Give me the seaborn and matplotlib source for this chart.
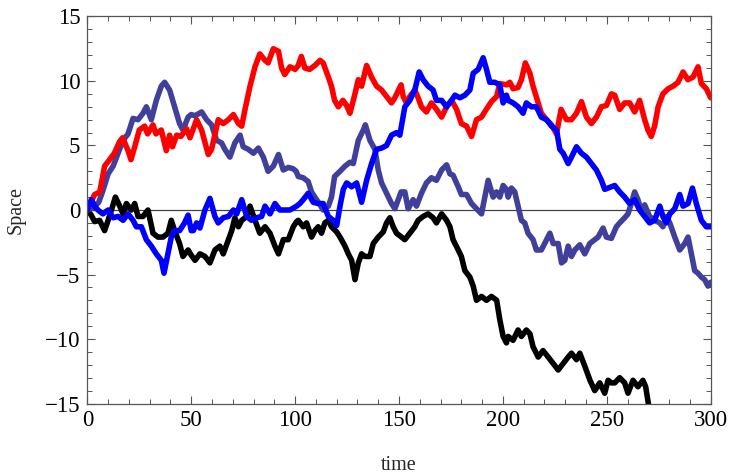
import numpy as np
import pandas as pd
import matplotlib
matplotlib.use("Agg")
import matplotlib.pyplot as plt
import seaborn as sns
from matplotlib.ticker import MultipleLocator

# ---- data (time, value) ----
red_t = [0,3.5,6,8.3,10.7,13,15.5,17,19.6,21,22.8,25,27.6,29,31.6,33,35.6,38,39.6,41,43,45,47.7,49.4,52.6,55,58.2,59.8,63,65.4,67.9,70.3,72.7,74.3,75.9,78.3,80.7,83,85.5,87,89.5,92,93.5,95,97.5,100,101.5,103,104.7,107,109.5,112,113.5,116,117.5,119,120.8,123,124.8,126.4,128.8,130.4,132,134.4,136.8,139.2,141.6,144,146.4,148,151,152,153.6,155.2,157.6,159.2,160.8,163.2,165.6,168,170.5,172.9,175.3,177.7,180,182.5,184.9,187.3,189.7,192,194.5,197,198.5,201.7,203.3,204.9,207.3,208.9,210.8,213,214.5,217,218.5,221,223.4,225.8,228,230.6,233,235.4,237.8,240.2,242.6,245,247.4,249.8,252.2,253.8,256.2,258.6,261,263.4,265.8,268.2,269.8,271.4,273,274.7,277,279.5,281.9,284.3,286.7,289,291.5,293.9,295.5,297.9,300]
red_v = [0,1.2,1.4,3.4,3.9,4.4,5.3,5.6,4.6,3.9,4.9,6.2,6.5,5.9,6.6,5.9,6.2,4.6,5.8,4.9,5.8,5.7,6.3,5.6,7.0,6.2,4.3,4.7,7.0,6.7,7.0,7.4,6.7,6.5,7.8,9.6,11.1,12.1,11.6,11.4,12.5,12.3,11.0,10.5,11.1,10.9,11.2,11.9,11.0,10.9,11.2,11.6,11.4,10.3,9.6,8.5,8.0,8.5,8.1,7.5,9.0,10.1,9.6,11.2,10.3,9.6,9.3,8.8,8.3,8.7,9.7,8.8,8.3,8.8,9.3,8.7,8.0,7.6,8.3,7.8,7.2,8.0,8.5,7.8,6.7,6.5,5.7,7.0,7.2,7.8,8.4,8.8,9.8,9.7,9.9,9.4,9.5,10.1,11.4,10.6,9.6,8.3,7.5,7.0,6.6,5.9,7.8,7.0,7.0,7.5,8.4,7.2,6.7,7.2,8.0,8.1,9.0,8.9,7.8,8.3,8.3,7.6,8.5,7.0,6.2,5.7,6.5,8.0,9.0,9.4,9.6,9.9,10.7,10.1,10.3,11.1,9.8,9.4,8.7]

purple_t = [0,3,5.5,7.5,10,12.4,14.8,17.2,19.6,22,24.4,26.8,28.4,30.8,33.2,35.6,37.2,39.6,42,44.4,46,48.5,50,51.8,55,57.4,59.8,62.2,64.6,66.2,68.6,71,73.5,75,77.5,79.9,82.3,84.7,87,89.5,92,94.3,96.7,99,100.5,101.5,103.9,106.3,107.9,109.5,112,113.5,116,117.5,119,121.6,124,126.4,128,130.4,132.8,133.8,136,138.4,140,141.6,144,146.4,148,149.6,151,152.8,154.4,156.8,158.4,160.8,163.2,165.6,168,170.5,172.9,174.5,176,178.5,180,182.5,184.9,187.3,189.7,191.3,192.9,195.3,196.9,198.5,200.1,201.7,202.5,204.1,205.7,207.3,208.9,210.5,212.1,214.5,216.1,218.5,221,222.6,224.2,226.6,228.2,229.8,231.4,233,234.6,237,239.4,241.8,244.2,245.8,248.2,249.8,252.2,254.6,256.2,258.6,260.2,261.8,263.4,265,266.6,268.2,270.6,273,275.5,277,278.7,280.3,282.7,285.1,287.5,289.1,290.7,292.3,293.9,295.5,297.1,298.7,300]
purple_v = [0,0.2,0.6,1.5,2.8,3.4,4.4,5.4,5.9,7.1,7.0,7.5,8.0,7.0,8.5,9.6,9.9,9.3,8.0,6.7,6.2,7.2,7.4,7.3,7.6,7.0,6.6,5.4,5.2,4.7,4.1,5.2,5.8,4.9,4.7,4.4,4.8,4.1,3.0,3.4,4.3,3.1,3.3,3.2,3.0,2.6,2.5,2.2,1.4,1.0,0.4,0.0,0.3,1.0,2.6,3.0,3.4,3.7,3.6,5.4,6.2,6.6,5.4,4.7,3.1,2.1,1.3,0.5,0.1,0.8,1.4,1.4,0.1,0.8,0.3,1.3,2.1,2.5,2.3,3.1,3.5,2.8,2.7,1.8,1.2,1.2,0.5,0.1,-0.3,1.0,2.3,1.0,1.4,1.0,1.9,1.6,1.0,1.7,1.4,0.3,-0.8,-1.0,-1.8,-2.3,-3.1,-3.1,-2.3,-1.8,-2.6,-2.6,-4.1,-3.9,-2.8,-3.6,-3.1,-2.7,-3.4,-2.6,-2.3,-2.1,-1.4,-2.1,-2.2,-1.3,-1.0,-0.6,-0.3,0.5,1.4,0.8,-0.1,0.4,-0.5,-0.8,-1.0,-1.3,-0.5,-1.0,-2.1,-3.1,-2.6,-2.1,-3.4,-4.7,-4.9,-5.2,-5.4,-5.9,-5.6]

blue_t = [0,1.9,3.5,5.1,7.5,10,12.4,14.8,17.2,19.6,22,23.6,26,28.4,30.8,33.2,35.6,36.9,38.8,40.4,42,44.4,46.8,48.5,50,51,52.6,54.2,56.6,59,61.4,63,65.4,67.9,70.3,71.9,74.3,76.7,79,81.5,83.9,85.5,87.9,90.3,92.7,95.1,97.5,100.7,102.3,103.9,106.3,108.7,111.1,113.5,116,118.3,120,121.6,123.2,124.8,127.2,129.6,132,134.4,136.8,139.2,141.6,144,146.4,148.8,150.4,152.8,155.2,157.6,159.7,161.6,164,166.4,168,170.5,172.9,175.3,176.9,179.3,181.7,184.1,185.7,188.1,190.5,192.1,193.7,196.1,198.5,200.1,201.7,202.5,204.9,207.3,209.7,211.3,213.7,216.1,218.5,221,223.4,225.8,227.4,229,231.4,233,235.4,237.8,240.2,242.6,245,247.4,249,252.2,253.8,256.2,258.6,261,263.4,265.8,268.2,270.6,273,275.5,277,278.7,280.3,282.7,285.1,286.7,289.1,291.2,293.1,295.5,297.9,300]
blue_v = [0,0.8,0.3,0,-0.3,0,-0.6,-0.5,-0.8,-0.3,-0.8,-1.3,-1.3,-2.3,-2.8,-3.4,-3.9,-4.9,-3.4,-2.1,-1.6,-1.6,-1.0,-0.4,-1.6,-1.6,-1.0,-1.4,0,0.9,-0.5,-1.0,-0.6,-0.5,0,-0.3,0.8,-0.5,-0.8,-0.6,-0.5,0.3,-0.3,0.5,0,0,0,0.3,0.5,0.8,1.3,0.6,0.5,0.5,-0.5,-0.8,-1.2,0.3,1.6,2.1,1.8,2.1,0.6,2.3,3.6,4.7,4.8,5.0,5.8,6.0,5.8,8.0,8.5,9.3,10.7,10.1,9.6,9.3,8.5,8.5,8.0,8.5,8.9,8.7,8.9,9.3,10.6,10.9,11.8,10.9,9.9,9.9,9.7,8.3,8.9,8.5,8.3,8.0,7.5,8.3,8.0,8.0,7.2,7.0,6.5,6.2,4.7,4.4,3.6,4.1,4.9,4.4,4.1,3.6,3.1,2.3,1.6,1.8,1.9,1.4,1.0,0.5,0.8,0,-0.5,-1.0,-0.8,0.3,-0.5,-1.0,-0.3,0.1,1.2,0.3,0.5,1.7,0.5,-0.8,-1.3,-1.3]

black_t = [0,1.9,3.5,5.9,8.3,10,11.6,13.5,15.6,17.2,18.8,21.2,22.8,24.4,26.8,29.2,31.6,34,36.4,38.8,40.4,42,44.4,46,48.5,50,51.8,54.2,56.6,59,61.4,63.8,65.4,67.9,69.5,71,72.7,74.3,76.7,78.3,80.7,83,85.5,87.9,90.3,92,94.3,96.7,99.1,100.7,101.5,103.9,105.5,107.9,109.5,111.1,112.7,114.3,116,117.5,120,121.6,124,125.6,127.2,128.8,130.4,132,133.6,136,137.6,140,142.4,144,145.6,147.2,148.8,151.2,152.8,155.2,157.6,159.2,161.6,164,166.4,168,170.5,172.9,174.5,176,178.5,180,181.7,184.1,185.7,187.3,189.7,192.1,194.5,197,198.5,200.1,201.7,202.5,204.9,207.3,208.9,211.3,213,214.5,217,219.3,221.8,224.2,226.6,229,231.4,233,235.4,237,239.4,241.9,244.2,246.6,249,250.6,252.2,253.8,256.2,258.6,260.2,262.6,265,267.4,268.7,271]
black_v = [0,-0.4,-0.9,-0.8,-1.6,-0.8,0,1.0,0.3,-0.3,0.5,0,0.5,-0.5,-0.5,0,-1.8,-2.1,-2.1,-1.8,-0.8,-1.6,-2.6,-3.6,-3.1,-3.5,-3.9,-3.4,-3.6,-4.1,-3.1,-2.8,-3.4,-2.3,-1.6,-0.6,-1.3,-0.8,-0.5,0.3,-0.8,-1.8,-1.3,-1.8,-2.8,-3.4,-2.3,-2.3,-1.3,-0.9,-0.8,-1.3,-1.0,-2.1,-1.6,-1.3,-1.8,-1.0,-0.8,-1.3,-1.7,-2.1,-2.8,-3.4,-3.9,-5.4,-4.1,-3.4,-3.6,-3.6,-2.6,-2.1,-1.7,-1.0,-0.6,-1.3,-1.8,-2.1,-2.3,-1.8,-1.3,-0.8,-0.5,-0.3,-0.6,-1.0,-0.3,-0.8,-1.3,-2.3,-3.1,-3.6,-4.7,-5.2,-5.9,-7.0,-6.7,-7.0,-6.7,-7.0,-8.5,-9.8,-10.3,-9.8,-10.1,-9.3,-9.8,-9.3,-9.6,-10.6,-11.4,-10.9,-11.4,-11.9,-12.4,-11.9,-11.4,-11.1,-11.6,-11.1,-12.1,-13.2,-14.0,-13.4,-14.2,-13.2,-13.4,-13.4,-13.0,-13.4,-14.2,-13.2,-13.7,-13.2,-13.7,-16.0]

series_names = ["black", "purple", "red", "blue"]
series_colors = {"black": "#000000", "purple": "#40409c", "red": "#ff0000", "blue": "#0000ff"}

x_ticks = [0, 50, 100, 150, 200, 250, 300]
y_ticks = [-15, -10, -5, 0, 5, 10, 15]

frames = []
for name, t, v in [("black", black_t, black_v), ("purple", purple_t, purple_v),
                   ("red", red_t, red_v), ("blue", blue_t, blue_v)]:
    frames.append(pd.DataFrame({"time": t, "Space": v, "series": name}))
df = pd.concat(frames, ignore_index=True)

sns.set_style("ticks")
plt.rcParams["font.family"] = ["Liberation Serif", "DejaVu Serif"]
plt.rcParams["mathtext.fontset"] = "stix"

fig = plt.figure(figsize=(7.32, 4.75), dpi=100)
ax = fig.add_axes([0.1193, 0.1505, 0.8516, 0.8148])

ax.axhline(0, color="#444444", lw=0.9, zorder=1)
sns.lineplot(data=df, x="time", y="Space", hue="series", hue_order=series_names,
             palette=series_colors, estimator=None, sort=False, legend=False,
             linewidth=4.0, ax=ax, zorder=2)

ax.set_xlim(0, 300)
ax.set_ylim(-15, 15)
ax.set_xticks(x_ticks)
ax.set_yticks(y_ticks)
ax.set_xticklabels([str(v) for v in x_ticks])
ax.set_yticklabels([str(v).replace("-", "\u2212") for v in y_ticks])
ax.xaxis.set_minor_locator(MultipleLocator(10))
ax.yaxis.set_minor_locator(MultipleLocator(1))
ax.tick_params(which="both", direction="in", top=True, right=True, colors="#555555",
               labelcolor="black", labelsize=16.5, pad=5)
ax.tick_params(which="major", length=6, width=0.8)
ax.tick_params(which="minor", length=3.5, width=0.7)
for s in ax.spines.values():
    s.set_color("#555555")
    s.set_linewidth(0.9)

ax.set_xlabel("time", fontsize=14.5, labelpad=18)
ax.set_ylabel("Space", fontsize=14.5, labelpad=14)

fig.savefig("out.png", dpi=100)
